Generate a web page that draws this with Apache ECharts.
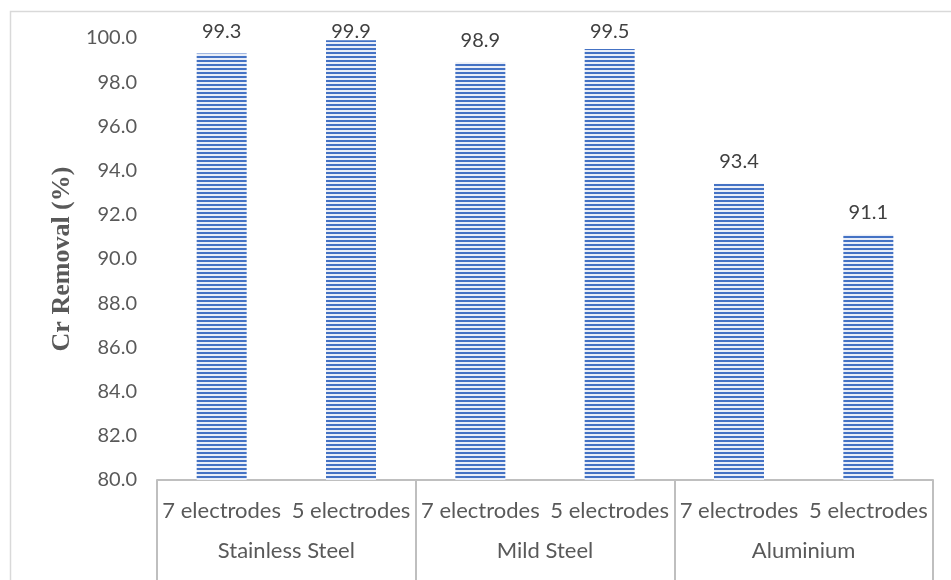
<!DOCTYPE html>
<html>
<head>
<meta charset="utf-8">
<script src="https://cdn.jsdelivr.net/npm/echarts@6/dist/echarts.min.js"></script>
<style>
  html, body { margin: 0; padding: 0; background: #fff; }
  #chart { width: 951px; height: 580px; }
</style>
</head>
<body>
<div id="chart"></div>
<script>
// Electrode configurations (inner axis row) and materials (outer axis row)
const electrodeLabels = ['7 electrodes', '5 electrodes', '7 electrodes', '5 electrodes', '7 electrodes', '5 electrodes'];
const materials = ['Stainless Steel', 'Mild Steel', 'Aluminium'];
// Chromium removal, percent
const removal = [99.3, 99.9, 98.9, 99.5, 93.4, 91.1];
// Value axis range and step
const yMin = 80;
const yMax = 100;
const yStep = 2;

// Horizontal-stripe fill used for the bars
function stripePattern() {
  const c = document.createElement('canvas');
  c.width = 8;
  c.height = 4;
  const ctx = c.getContext('2d');
  ctx.fillStyle = '#e9eef8';
  ctx.fillRect(0, 0, 8, 4);
  ctx.fillStyle = '#4472C4';
  ctx.fillRect(0, 0, 8, 2);
  return c;
}

const chart = echarts.init(document.getElementById('chart'), null, { renderer: 'canvas' });
const font = 'Lato, "Open Sans", sans-serif';
const barFill = { image: stripePattern(), repeat: 'repeat' };

function buildOption(labelDistances) {
  return {
    animation: false,
    backgroundColor: '#ffffff',
    graphic: [{
      type: 'rect',
      left: 8, top: 9,
      shape: { width: 1000, height: 700 },
      style: { fill: 'none', stroke: '#d9d9d9', lineWidth: 1.5 },
      silent: true,
      z: -10
    }],
    grid: { left: 157, right: 18, top: 38, bottom: 100 },
    xAxis: [{
      type: 'category',
      data: electrodeLabels,
      position: 'bottom',
      axisLine: { show: true, lineStyle: { color: '#bfbfbf', width: 2 } },
      axisTick: { show: false },
      axisLabel: { color: '#595959', fontSize: 22, fontFamily: font, margin: 20, interval: 0 }
    }, {
      type: 'category',
      data: materials,
      position: 'bottom',
      axisLine: { show: false },
      axisTick: { show: true, length: 102, interval: 0, lineStyle: { color: '#bfbfbf', width: 2 } },
      axisLabel: { color: '#595959', fontSize: 22, fontFamily: font, margin: 60, interval: 0 },
      splitLine: { show: false }
    }],
    yAxis: {
      type: 'value',
      min: yMin,
      max: yMax,
      interval: yStep,
      name: 'Cr Removal (%)',
      nameLocation: 'middle',
      nameGap: 82,
      nameRotate: 90,
      nameTextStyle: {
        fontFamily: '"Liberation Serif", "DejaVu Serif", serif',
        fontWeight: 'bold',
        fontSize: 26,
        color: '#595959'
      },
      axisLine: { show: false },
      axisTick: { show: false },
      splitLine: { show: false },
      axisLabel: {
        color: '#595959', fontSize: 20, fontFamily: font, margin: 20,
        formatter: v => v.toFixed(1)
      }
    },
    series: [{
      type: 'bar',
      xAxisIndex: 0,
      barWidth: 50,
      itemStyle: { color: barFill },
      data: removal.map((v, i) => ({
        value: v,
        label: { distance: labelDistances ? labelDistances[i] : 12 }
      })),
      label: {
        show: true,
        position: 'top',
        color: '#404040',
        fontSize: 20,
        fontFamily: font,
        formatter: p => p.value.toFixed(1)
      }
    }]
  };
}

chart.setOption(buildOption(null));

// Keep value labels from rising above the top of the plot region
const minLabelCenter = 30;
const distances = removal.map((v, i) => {
  const top = chart.convertToPixel({ xAxisIndex: 0, yAxisIndex: 0 }, [i, v])[1];
  return Math.min(12, top - minLabelCenter - 12);
});
chart.setOption(buildOption(distances));
</script>
</body>
</html>
